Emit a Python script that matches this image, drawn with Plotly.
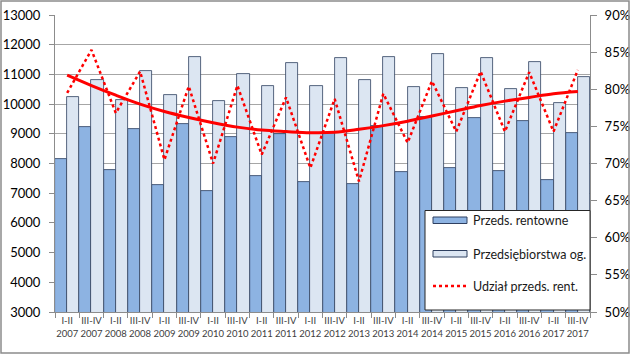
import plotly.graph_objects as go

# ---- data ----
labels = ["I-II<br>2007", "III-IV<br>2007", "I-II<br>2008", "III-IV<br>2008",
          "I-II<br>2009", "III-IV<br>2009", "I-II<br>2010", "III-IV<br>2010",
          "I-II<br>2011", "III-IV<br>2011", "I-II<br>2012", "III-IV<br>2012",
          "I-II<br>2013", "III-IV<br>2013", "I-II<br>2014", "III-IV<br>2014",
          "I-II<br>2015", "III-IV<br>2015", "I-II<br>2016", "III-IV<br>2016",
          "I-II<br>2017", "III-IV<br>2017"]

rentowne = [8140, 9220, 7780, 9150, 7275, 9330, 7065, 8880, 7570, 8985, 7370,
            9040, 7310, 9250, 7700, 9555, 7840, 9540, 7760, 9430, 7445, 9020]

ogolem = [10230, 10810, 10140, 11125, 10320, 11575, 10095, 11005, 10620, 11375, 10620,
          11545, 10810, 11575, 10590, 11685, 10530, 11545, 10500, 11420, 10030, 10900]

udzial = [79.5, 85.3, 76.8, 82.4, 70.5, 80.4, 70.0, 80.5, 71.2, 78.9, 69.4,
          78.7, 67.6, 79.4, 72.8, 81.1, 74.3, 82.4, 74.3, 82.3, 74.3, 82.6]

trend = [81.9, 80.5, 79.2, 78.0, 77.0, 76.2, 75.5, 74.9, 74.5, 74.3, 74.15,
         74.2, 74.6, 75.1, 75.7, 76.4, 77.1, 77.8, 78.4, 78.9, 79.4, 79.7]

names = ["Przeds. rentowne", "Przedsiębiorstwa og.", "Udział przeds. rent."]

# ---- styling ----
DARK = "#8db3e2"
LIGHT = "#dce6f2"
EDGE = "#2f4060"
RED = "#ff0000"
GRID = "#a6a6a6"
FONT = "Lato"

W, H = 630, 355
L, R, T, B = 55, 40, 15, 43
PW, PH = W - L - R, H - T - B


def px(x):
    return (x - L) / PW


def py(y):
    return (H - B - y) / PH


fig = go.Figure()
fig.add_trace(go.Bar(x=labels, y=rentowne, name=names[0], showlegend=False,
                     marker=dict(color=DARK, line=dict(color=EDGE, width=0.8))))
fig.add_trace(go.Bar(x=labels, y=ogolem, name=names[1], showlegend=False,
                     marker=dict(color=LIGHT, line=dict(color=EDGE, width=0.8))))
fig.add_trace(go.Scatter(x=labels, y=[v / 100 for v in udzial], yaxis="y2", mode="lines",
                         name=names[2], showlegend=False,
                         line=dict(color=RED, width=2.5, dash="dot")))
fig.add_trace(go.Scatter(x=labels, y=[v / 100 for v in trend], yaxis="y2", mode="lines",
                         showlegend=False,
                         line=dict(color=RED, width=3, shape="spline")))

shapes = []
annotations = []
# outer chart border
shapes.append(dict(type="rect", xref="paper", yref="paper",
                   x0=px(1), x1=px(629), y0=py(353), y1=py(1),
                   line=dict(color="#8c8c8c", width=1.5), fillcolor="rgba(0,0,0,0)"))
# legend box
shapes.append(dict(type="rect", xref="paper", yref="paper",
                   x0=px(425), x1=px(590), y0=py(310), y1=py(210.5),
                   line=dict(color="#262626", width=1), fillcolor="white"))
# legend symbols
shapes.append(dict(type="rect", xref="paper", yref="paper",
                   x0=px(433), x1=px(467), y0=py(223.5), y1=py(217),
                   line=dict(color=EDGE, width=1), fillcolor=DARK))
shapes.append(dict(type="rect", xref="paper", yref="paper",
                   x0=px(433), x1=px(467), y0=py(257), y1=py(250.5),
                   line=dict(color=EDGE, width=1), fillcolor=LIGHT))
shapes.append(dict(type="line", xref="paper", yref="paper",
                   x0=px(433), x1=px(467), y0=py(286), y1=py(286),
                   line=dict(color=RED, width=2.5, dash="dot")))
for name, yy in zip(names, [220, 254, 286]):
    annotations.append(dict(text=name, xref="paper", yref="paper", x=px(471), y=py(yy),
                            xanchor="left", yanchor="middle", showarrow=False,
                            font=dict(family=FONT, size=12.5, color="#1a1a1a")))

fig.update_layout(
    width=W, height=H,
    margin=dict(l=L, r=R, t=T, b=B, pad=0, autoexpand=False),
    paper_bgcolor="white", plot_bgcolor="white",
    barmode="group", bargap=0, bargroupgap=0,
    showlegend=False,
    font=dict(family=FONT),
    xaxis=dict(type="category", showgrid=False, showline=True, linecolor="#8c8c8c",
               linewidth=1, ticks="outside", tickson="boundaries", ticklen=5,
               tickcolor="#8c8c8c", tickfont=dict(size=9.5, color="#404040", family=FONT),
               tickangle=0, automargin=False),
    yaxis=dict(range=[3000, 13000], dtick=1000, tickformat="d", showgrid=True,
               gridcolor=GRID, gridwidth=1, showline=True, linecolor="#8c8c8c",
               ticks="outside", ticklen=5, tickcolor="#8c8c8c", zeroline=False,
               tickfont=dict(size=13, color="#000000", family=FONT),
               ticklabelstandoff=6, automargin=False),
    yaxis2=dict(range=[0.5, 0.9], dtick=0.05, tickformat=".0%", overlaying="y",
                side="right", showgrid=False, showline=True, linecolor="#8c8c8c",
                ticks="outside", ticklen=6, tickcolor="#8c8c8c", zeroline=False,
                tickfont=dict(size=13, color="#000000", family=FONT),
                ticklabelstandoff=5, automargin=False),
    shapes=shapes,
    annotations=annotations,
)

fig.write_html("out.html", config={"displayModeBar": False},
               post_script="document.body.style.margin='0px';document.body.style.overflow='hidden';")
